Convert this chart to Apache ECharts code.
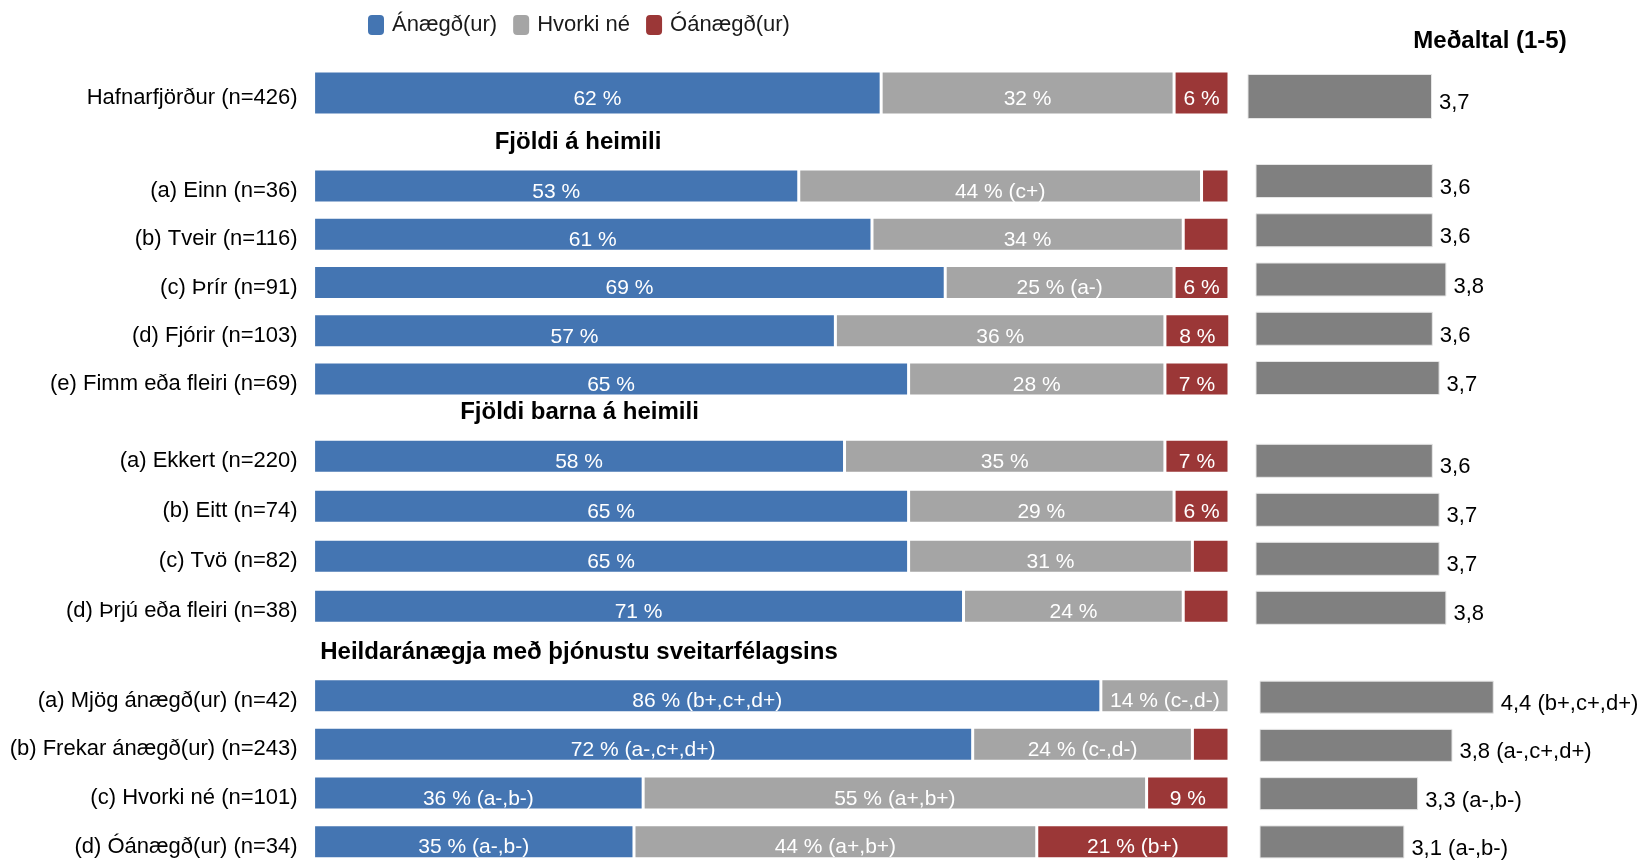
<!DOCTYPE html>
<html>
<head>
<meta charset="utf-8">
<title>Ánægja eftir heimilisgerð</title>
<script src="https://cdn.jsdelivr.net/npm/echarts@6/dist/echarts.min.js"></script>
<style>
  html, body { margin: 0; padding: 0; background: #fff; }
  #chart { width: 1650px; height: 866px; }
</style>
</head>
<body>
<div id="chart"></div>
<script>
// ---- Data ----------------------------------------------------------------
const categories = [
  'Hafnarfjörður (n=426)',
  '(a) Einn (n=36)', '(b) Tveir (n=116)', '(c) Þrír (n=91)', '(d) Fjórir (n=103)', '(e) Fimm eða fleiri (n=69)',
  '(a) Ekkert (n=220)', '(b) Eitt (n=74)', '(c) Tvö (n=82)', '(d) Þrjú eða fleiri (n=38)',
  '(a) Mjög ánægð(ur) (n=42)', '(b) Frekar ánægð(ur) (n=243)', '(c) Hvorki né (n=101)', '(d) Óánægð(ur) (n=34)'
];
// first row index of each block (total, household size, children, overall satisfaction)
const blockStart = [0, 1, 6, 10, 14];
const blockTitles = ['Fjöldi á heimili', 'Fjöldi barna á heimili', 'Heildaránægja með þjónustu sveitarfélagsins'];
const seriesNames = ['Ánægð(ur)', 'Hvorki né', 'Óánægð(ur)'];
const meanTitle = 'Meðaltal (1-5)';

const satisfied    = [62, 53, 61, 69, 57, 65, 58, 65, 65, 71, 86, 72, 36, 35];
const neutral      = [32, 44, 34, 25, 36, 28, 35, 29, 31, 24, 14, 24, 55, 44];
const dissatisfied = [ 6,  3,  5,  6,  8,  7,  7,  6,  4,  5,  0,  4,  9, 21];

const satisfiedNote    = ['', '', '', '', '', '', '', '', '', '', '(b+,c+,d+)', '(a-,c+,d+)', '(a-,b-)', '(a-,b-)'];
const neutralNote      = ['', '(c+)', '', '(a-)', '', '', '', '', '', '', '(c-,d-)', '(c-,d-)', '(a+,b+)', '(a+,b+)'];
const dissatisfiedNote = ['', '', '', '', '', '', '', '', '', '', '', '', '', '(b+)'];

const meanScore = [3.7, 3.6, 3.6, 3.8, 3.6, 3.7, 3.6, 3.7, 3.7, 3.8, 4.4, 3.8, 3.3, 3.1];
const meanNote  = ['', '', '', '', '', '', '', '', '', '', '(b+,c+,d+)', '(a-,c+,d+)', '(a-,b-)', '(a-,b-)'];

// ---- Layout (pixels) -----------------------------------------------------
const FONT = "'Liberation Sans', Arial, Helvetica, sans-serif";
const COLORS = ['#4475b2', '#a5a5a5', '#9b3737'];
const MEAN_COLOR = '#808080';
const STACK_LEFT = 313.6, STACK_WIDTH = 915.4;
// rowTop = centre of first row, step = row pitch, bar = bar thickness, dy = mean label nudge
const blockLayout = [
  { rowTop: 93,    step: 56,    bar: 44, meanTop: 96.5,  meanStep: 56,    meanBar: 45, meanLeft: 1248, meanWidth: 272.6, dy: 6 },
  { rowTop: 186,   step: 48.25, bar: 34, meanTop: 181,   meanStep: 49.25, meanBar: 34, meanLeft: 1256, meanWidth: 272,   dy: 7 },
  { rowTop: 456.3, step: 50,    bar: 34, meanTop: 460.8, meanStep: 49,    meanBar: 34, meanLeft: 1256, meanWidth: 272,   dy: 6 },
  { rowTop: 696.3, step: 50,    bar: 34, meanTop: 698,   meanStep: 50,    meanBar: 33, meanLeft: 1260, meanWidth: 275,   dy: 7 }
];
const titlePos = [[578, 142], [579.5, 412], [579, 652]];

// ---- Build option --------------------------------------------------------
const grid = [], xAxis = [], yAxis = [], series = [];
const valueLists = [satisfied, neutral, dissatisfied];
const noteLists = [satisfiedNote, neutralNote, dissatisfiedNote];

blockLayout.forEach((L, b) => {
  const from = blockStart[b], to = blockStart[b + 1];
  const n = to - from;
  const cats = categories.slice(from, to);

  // stacked percentage panel
  const gi = grid.length;
  grid.push({ left: STACK_LEFT, width: STACK_WIDTH, top: L.rowTop - L.step / 2, height: n * L.step });
  xAxis.push({ gridIndex: gi, type: 'value', min: 0, max: 100, show: false });
  yAxis.push({
    gridIndex: gi, type: 'category', data: cats, inverse: true,
    axisLine: { show: false }, axisTick: { show: false }, splitLine: { show: false },
    // top-anchored short line box puts the text slightly below the row centre
    axisLabel: { fontFamily: FONT, fontSize: 22, color: '#000', margin: 16, verticalAlign: 'top', lineHeight: 10 }
  });
  valueLists.forEach((vals, k) => {
    const notes = noteLists[k].slice(from, to);
    series.push({
      name: seriesNames[k], type: 'bar', stack: 'share' + b,
      xAxisIndex: gi, yAxisIndex: gi, barWidth: L.bar, clip: true,
      data: vals.slice(from, to),
      itemStyle: { color: COLORS[k], borderColor: '#ffffff', borderWidth: 1.5 },
      label: {
        show: true, position: 'inside', color: '#fff', fontFamily: FONT, fontSize: 21, offset: [0, 6],
        formatter: p => (p.value >= 6 ? p.value + ' %' + (notes[p.dataIndex] ? ' ' + notes[p.dataIndex] : '') : '')
      },
      emphasis: { disabled: true }, silent: true
    });
  });

  // mean score panel
  const mi = grid.length;
  grid.push({ left: L.meanLeft, width: L.meanWidth, top: L.meanTop - L.meanStep / 2, height: n * L.meanStep });
  xAxis.push({ gridIndex: mi, type: 'value', min: 1, max: 5, show: false });
  yAxis.push({ gridIndex: mi, type: 'category', data: cats, inverse: true, show: false });
  const mNotes = meanNote.slice(from, to);
  series.push({
    name: meanTitle, type: 'bar', xAxisIndex: mi, yAxisIndex: mi, barWidth: L.meanBar, clip: true,
    data: meanScore.slice(from, to),
    itemStyle: { color: MEAN_COLOR, borderColor: '#e6e6e6', borderWidth: 1 },
    label: {
      show: true, position: 'right', distance: 7, color: '#000', fontFamily: FONT, fontSize: 22, offset: [0, L.dy],
      formatter: p => p.value.toFixed(1).replace('.', ',') + (mNotes[p.dataIndex] ? ' ' + mNotes[p.dataIndex] : '')
    },
    emphasis: { disabled: true }, silent: true
  });
});

const headerText = (text, x, y) => ({
  type: 'text', x: x, y: y, silent: true,
  style: { text: text, fontFamily: FONT, fontSize: 24, fontWeight: 'bold', fill: '#000', align: 'center', verticalAlign: 'middle' }
});

const option = {
  animation: false,
  backgroundColor: '#fff',
  legend: {
    data: seriesNames, left: 363, top: 9, icon: 'roundRect',
    itemWidth: 16, itemHeight: 20, itemGap: 16, selectedMode: false,
    itemStyle: { borderWidth: 0 },
    textStyle: { fontFamily: FONT, fontSize: 22, color: '#1a1a1a', padding: [0, 0, 0, 3] }
  },
  grid: grid, xAxis: xAxis, yAxis: yAxis, series: series,
  graphic: blockTitles.map((t, i) => headerText(t, titlePos[i][0], titlePos[i][1]))
    .concat([headerText(meanTitle, 1490, 41)])
};

const chart = echarts.init(document.getElementById('chart'), null, { renderer: 'canvas' });
chart.setOption(option);
</script>
</body>
</html>
